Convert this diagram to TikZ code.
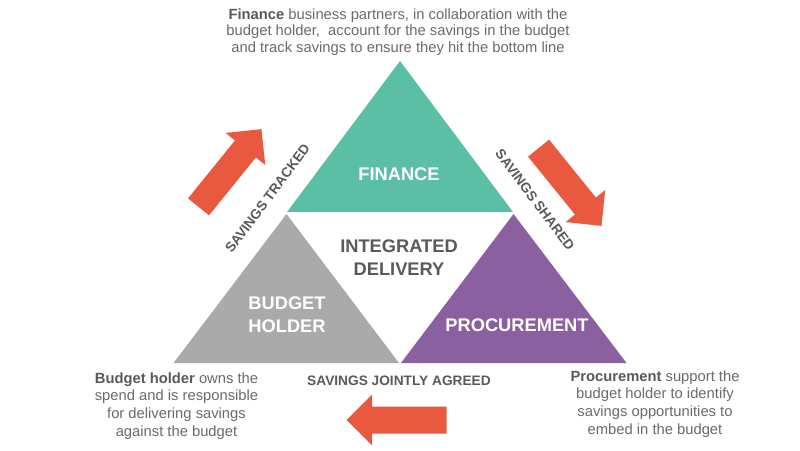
\documentclass[tikz,border=0pt]{standalone}
\usepackage{fontspec}
\setmainfont{Liberation Sans}
\usetikzlibrary{positioning}

\definecolor{fincol}{HTML}{5BBFA5}
\definecolor{budcol}{HTML}{AAAAAA}
\definecolor{procol}{HTML}{8B60A1}
\definecolor{arrcol}{HTML}{E8593F}
\definecolor{txtdark}{HTML}{595959}
\definecolor{txtgray}{HTML}{6A6A6A}

\tikzset{
  tri/.style={inner sep=0pt, align=center, text=white, font=\fontsize{10.4}{13}\selectfont\bfseries},
  lbl/.style={inner sep=0pt, text=txtdark, font=\fontsize{7.8}{9}\selectfont\bfseries},
  desc/.style={inner sep=0pt, align=center, text=txtgray, font=\fontsize{8.4}{10.1}\selectfont},
  pics/redarrow/.style={code={
    \fill[arrcol] (-1,-0.27) -- (0.49,-0.27) -- (0.49,-0.51) -- (1,0)
      -- (0.49,0.51) -- (0.49,0.27) -- (-1,0.27) -- cycle;}}
}

\begin{document}
\begin{tikzpicture}
\useasboundingbox (0,0) rectangle (16,9);
% the three triangles
\fill[fincol] (8.0,7.78) -- (5.74,4.76) -- (10.26,4.76) -- cycle;
\fill[budcol] (5.73,4.72) -- (3.47,1.74) -- (7.98,1.74) -- cycle;
\fill[procol] (10.27,4.72) -- (8.02,1.74) -- (12.53,1.74) -- cycle;
\node[tri] (finance) at (7.98,5.52) {FINANCE};
\node[tri] (budget) at (5.74,2.70) {BUDGET\\HOLDER};
\node[tri] (procure) at (10.34,2.50) {PROCUREMENT};
\node[tri, text=txtdark] (integrated) at (7.98,3.84) {INTEGRATED\\DELIVERY};
% labels along the sides
\node[lbl, rotate=53.2] (tracked) at (5.35,5.03) {SAVINGS TRACKED};
\node[lbl, rotate=-53.2] (shared) at (10.70,5.00) {SAVINGS SHARED};
\node[lbl] (agreed) at (7.98,1.38) {SAVINGS JOINTLY AGREED};
% red arrows
\pic[rotate=51] at (4.60,5.64) {redarrow};
\pic[rotate=-51] at (11.40,5.26) {redarrow};
\pic[rotate=180] at (7.93,0.60) {redarrow};
% descriptions
\node[desc, font=\fontsize{8.4}{9.5}\selectfont] (findesc) at (7.96,8.36)
  {\textcolor{txtdark}{\textbf{Finance}} business partners, in collaboration with the\\
   budget holder,\ \ account for the savings in the budget\\
   and track savings to ensure they hit the bottom line};
\node[desc] (buddesc) at (3.53,0.88)
  {\textcolor{txtdark}{\textbf{Budget holder}} owns the\\ spend and is responsible\\
   for delivering savings\\ against the budget};
\node[desc] (prodesc) at (13.10,0.92)
  {\textcolor{txtdark}{\textbf{Procurement}} support the\\ budget holder to identify\\
   savings opportunities to\\ embed in the budget};
\end{tikzpicture}
\end{document}
